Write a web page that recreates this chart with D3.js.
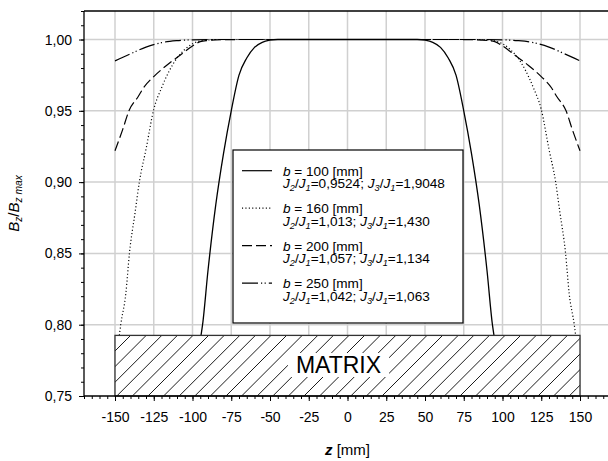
<!DOCTYPE html>
<html><head><meta charset="utf-8">
<script src="https://cdn.jsdelivr.net/npm/d3@7"></script>
<style>
body{margin:0;background:#fff}
svg{display:block}
text{font-family:"Liberation Sans",Arial,sans-serif;fill:#000}
</style>
</head><body>
<svg id="c" width="608" height="461"></svg>
<script>
// ---- data ----
const zDomain = [-170, 170];
const vDomain = [0.75, 1.02];
const xMajorTicks = [-150, -125, -100, -75, -50, -25, 0, 25, 50, 75, 100, 125, 150];
const yMajorTicks = [0.75, 0.80, 0.85, 0.90, 0.95, 1.00];
const xMinorTicks = d3.range(-170, 171, 5);
const yMinorTicks = d3.range(75, 103, 1).map(d => d / 100);

const z100 = [-94.5, -93.5, -90, -85, -80, -75, -70, -65, -60, -55, -50, -45, 0, 45, 50, 55, 60, 65, 70, 75, 80, 85, 90, 93.5, 94.5];
const v100 = [0.7925, 0.800, 0.838, 0.884, 0.920, 0.950, 0.975, 0.987, 0.9945, 0.998, 0.9995, 1.000, 1.000, 1.000, 0.9995, 0.998, 0.9945, 0.987, 0.975, 0.950, 0.920, 0.884, 0.838, 0.800, 0.7925];

const z160 = [-147.2, -146.3, -143, -140.7, -137, -134.3, -130, -125, -120, -115, -110, -105, -100, -95, -90, -85, 0, 85, 90, 95, 100, 105, 110, 115, 120, 125, 130, 134.3, 137, 140.7, 143, 146.3, 147.2];
const v160 = [0.7925, 0.800, 0.822, 0.850, 0.879, 0.900, 0.923, 0.951, 0.966, 0.978, 0.987, 0.993, 0.997, 0.999, 0.9997, 1.000, 1.000, 1.000, 0.9997, 0.999, 0.997, 0.993, 0.987, 0.978, 0.966, 0.951, 0.923, 0.900, 0.879, 0.850, 0.822, 0.800, 0.7925];

const z200 = [-150, -145, -141, -135, -131.7, -125, -116.6, -108, -100, -95, -90, -80, -70, 0, 70, 80, 90, 95, 100, 108, 116.6, 125, 131.7, 135, 141, 145, 150];
const v200 = [0.922, 0.937, 0.950, 0.960, 0.966, 0.974, 0.982, 0.989, 0.9955, 0.9985, 0.9993, 0.9999, 1.000, 1.000, 1.000, 0.9999, 0.9993, 0.9985, 0.9955, 0.989, 0.982, 0.974, 0.966, 0.960, 0.950, 0.937, 0.922];

const z250 = [-150, -140, -130, -120, -110, -100, -90, 0, 90, 100, 110, 120, 130, 140, 150];
const v250 = [0.985, 0.990, 0.9947, 0.9978, 0.9992, 0.9998, 1.000, 1.000, 1.000, 0.9998, 0.9992, 0.9978, 0.9947, 0.990, 0.985];

const bValues = [100, 160, 200, 250];
const j2Ratios = ["0,9524", "1,013", "1,057", "1,042"];
const j3Ratios = ["1,9048", "1,430", "1,134", "1,063"];

const matrixZ = [-150, 150];
const matrixTop = 0.7925;
const matrixLabel = "MATRIX";

// ---- styles ----
const dashes = [null, "1.1,2.3", "10,4", "16,3,1.2,2.4,1.2,3"];
const series = [
  {z: z100, v: v100}, {z: z160, v: v160}, {z: z200, v: v200}, {z: z250, v: v250}
];

const svg = d3.select("#c");
const x = d3.scaleLinear().domain(zDomain).range([84, 611]);
const y = d3.scaleLinear().domain(vDomain).range([396, 11]);

// grid
const grid = svg.append("g").attr("stroke", "#d0d0d0").attr("stroke-width", 1.5);
xMajorTicks.forEach(t => grid.append("line").attr("x1", x(t)).attr("x2", x(t)).attr("y1", y(vDomain[0])).attr("y2", y(vDomain[1])));
yMajorTicks.filter(t => t > vDomain[0]).forEach(t => grid.append("line").attr("x1", x(zDomain[0])).attr("x2", x(zDomain[1])).attr("y1", y(t)).attr("y2", y(t)));

// clip
svg.append("clipPath").attr("id", "plot").append("rect")
  .attr("x", x(zDomain[0])).attr("y", y(vDomain[1]))
  .attr("width", x(zDomain[1]) - x(zDomain[0])).attr("height", y(vDomain[0]) - y(vDomain[1]));

const line = d3.line().x(d => x(d[0])).y(d => y(d[1])).curve(d3.curveMonotoneX);
const cg = svg.append("g").attr("clip-path", "url(#plot)");
series.forEach((s, i) => {
  cg.append("path")
    .attr("d", line(s.z.map((z, k) => [z, s.v[k]])))
    .attr("fill", "none").attr("stroke", "#000")
    .attr("stroke-width", i === 0 ? 1.3 : 1.2)
    .attr("stroke-dasharray", dashes[i]);
});

// matrix block
const mx0 = x(matrixZ[0]), mx1 = x(matrixZ[1]), my0 = y(matrixTop), my1 = y(vDomain[0]);
svg.append("clipPath").attr("id", "mclip").append("rect")
  .attr("x", mx0).attr("y", my0).attr("width", mx1 - mx0).attr("height", my1 - my0);
svg.append("rect").attr("x", mx0).attr("y", my0).attr("width", mx1 - mx0).attr("height", my1 - my0).attr("fill", "#fff");
const hatch = svg.append("g").attr("clip-path", "url(#mclip)").attr("stroke", "#000").attr("stroke-width", 0.9);
const H = my1 - my0;
for (let k = mx0 - H; k < mx1 + 1; k += 15.6) {
  hatch.append("line").attr("x1", k).attr("y1", my1).attr("x2", k + H).attr("y2", my0);
}
const mText = svg.append("text").attr("x", (mx0 + mx1) / 2 - 9).attr("y", my1 - 23)
  .attr("text-anchor", "middle").attr("font-size", 23).text(matrixLabel);
const bb = mText.node().getBBox();
svg.insert("rect", () => mText.node())
  .attr("x", bb.x - 8).attr("y", bb.y + 1).attr("width", bb.width + 16).attr("height", bb.height - 2).attr("fill", "#fff");
svg.append("rect").attr("x", mx0).attr("y", my0).attr("width", mx1 - mx0).attr("height", my1 - my0)
  .attr("fill", "none").attr("stroke", "#333").attr("stroke-width", 1.3);

// rich text helper (italic + subscripts)
function rich(sel, parts, fs) {
  let sub = false;
  parts.forEach(p => {
    const t = sel.append("tspan").text(p.t);
    if (p.x !== undefined) { t.attr("x", p.x).attr("dy", p.dy - (sub ? 3 : 0)); sub = false; }
    if (p.i) t.attr("font-style", "italic");
    if (p.sub) { t.attr("font-size", fs * 0.68); if (!sub) t.attr("dy", 3); sub = true; }
    else if (p.x === undefined) { if (sub) t.attr("dy", -3); sub = false; }
  });
}

// legend
const lg = svg.append("g");
lg.append("rect").attr("x", 233).attr("y", 150).attr("width", 230).attr("height", 173)
  .attr("fill", "#fff").attr("stroke", "#000").attr("stroke-width", 1.2);
const lfs = 13.6;
bValues.forEach((b, i) => {
  const cy = 170.7 + i * 37.5;
  lg.append("line").attr("x1", 242).attr("x2", 272).attr("y1", cy).attr("y2", cy)
    .attr("stroke", "#000").attr("stroke-width", 1.2).attr("stroke-dasharray", dashes[i]);
  const t1 = lg.append("text").attr("x", 283).attr("y", cy + 5).attr("font-size", lfs);
  rich(t1, [{t: "b", i: true}, {t: " = " + b + " [mm]"},
            {t: "J", i: true, x: 283, dy: 12.5}, {t: "2", i: true, sub: true}, {t: "/"}, {t: "J", i: true}, {t: "1", i: true, sub: true},
            {t: "=" + j2Ratios[i] + "; "}, {t: "J", i: true}, {t: "3", i: true, sub: true}, {t: "/"}, {t: "J", i: true},
            {t: "1", i: true, sub: true}, {t: "=" + j3Ratios[i]}], lfs);
});

// axes
const fmtY = d => d3.format(".2f")(d).replace(".", ",");
const ax = svg.append("g").attr("transform", `translate(${x(zDomain[0])},0)`);
ax.call(d3.axisLeft(y).tickValues(yMinorTicks).tickSize(3).tickFormat(""));
ax.call(g => g.select(".domain").remove());
const ax2 = svg.append("g").attr("transform", `translate(${x(zDomain[0])},0)`);
ax2.call(d3.axisLeft(y).tickValues(yMajorTicks).tickSize(5).tickPadding(7).tickFormat(fmtY));
ax2.call(g => g.select(".domain").remove());
ax2.selectAll("text").attr("font-size", 14).attr("font-family", null);

const bx = svg.append("g").attr("transform", `translate(0,${y(vDomain[0])})`);
bx.call(d3.axisBottom(x).tickValues(xMinorTicks).tickSize(3).tickFormat(""));
bx.call(g => g.select(".domain").remove());
const bx2 = svg.append("g").attr("transform", `translate(0,${y(vDomain[0])})`);
bx2.call(d3.axisBottom(x).tickValues(xMajorTicks).tickSize(5).tickPadding(11).tickFormat(d => String(d)));
bx2.call(g => g.select(".domain").remove());
bx2.selectAll("text").attr("font-size", 14).attr("font-family", null);
svg.selectAll(".tick line").attr("stroke", "#000").attr("stroke-width", 1);

// frame lines
const fr = svg.append("g").attr("stroke", "#000").attr("stroke-width", 1.3);
fr.append("line").attr("x1", x(zDomain[0])).attr("x2", x(zDomain[0])).attr("y1", y(vDomain[0])).attr("y2", y(vDomain[1]));
fr.append("line").attr("x1", x(zDomain[0])).attr("x2", x(zDomain[1])).attr("y1", y(vDomain[0])).attr("y2", y(vDomain[0]));
fr.append("line").attr("x1", x(zDomain[0])).attr("x2", x(zDomain[1])).attr("y1", y(vDomain[1])).attr("y2", y(vDomain[1]));

// axis titles
const yt = svg.append("text").attr("transform", `translate(18.5,${(y(vDomain[0]) + y(vDomain[1])) / 2}) rotate(-90)`)
  .attr("text-anchor", "middle").attr("font-size", 15);
rich(yt, [{t: "B", i: true}, {t: "z", i: true, sub: true}, {t: "/"}, {t: "B", i: true}, {t: "z max", i: true, sub: true}], 15);
const xt = svg.append("text").attr("x", x(0)).attr("y", 455).attr("text-anchor", "middle").attr("font-size", 15);
xt.append("tspan").attr("font-style", "italic").attr("font-weight", "bold").text("z");
xt.append("tspan").text(" [mm]");
</script>
</body></html>
